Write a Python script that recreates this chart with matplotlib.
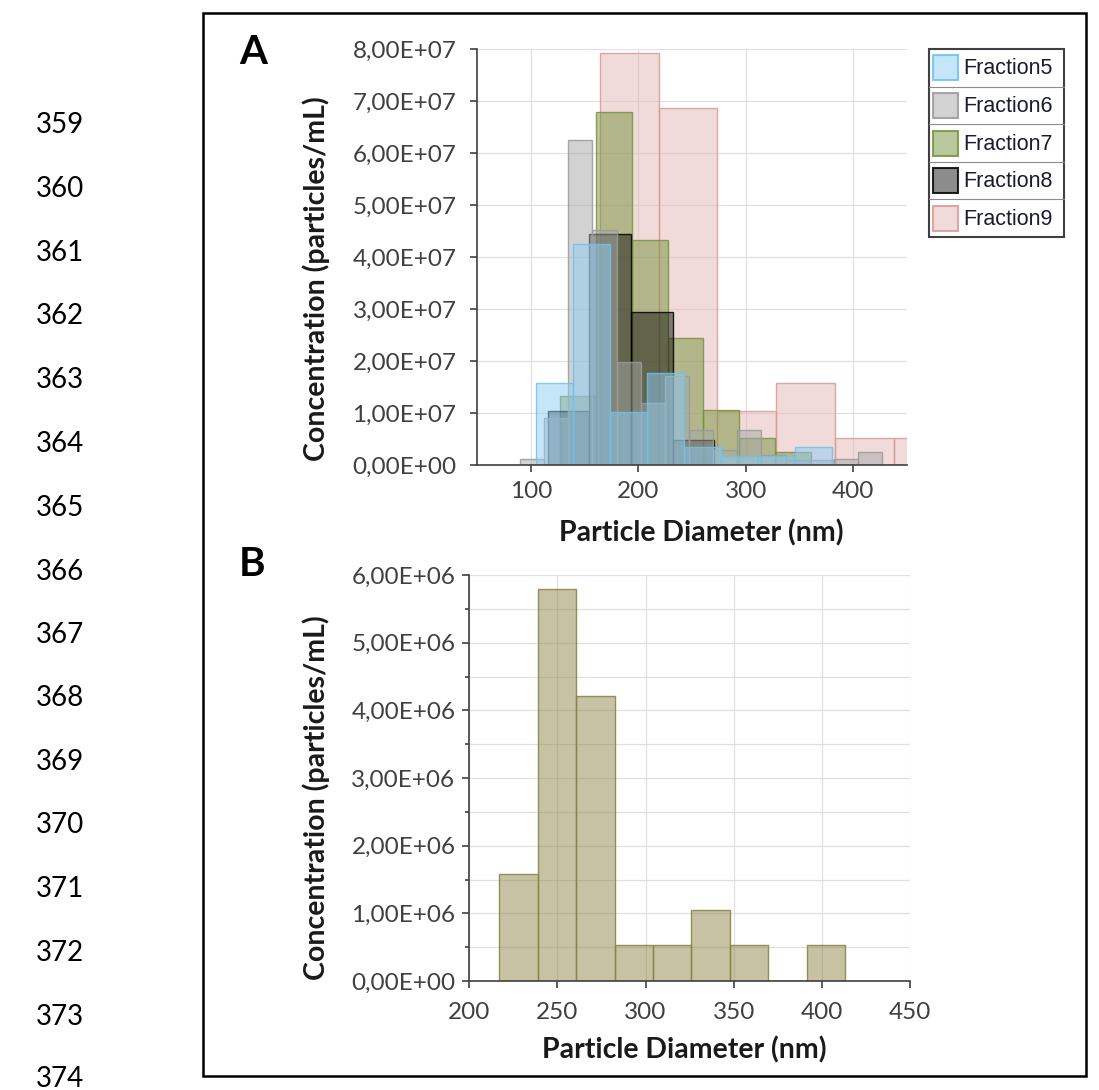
import numpy as np
import matplotlib
matplotlib.use("Agg")
import matplotlib.pyplot as plt
from matplotlib.patches import Rectangle
from matplotlib.ticker import FuncFormatter, MultipleLocator

# figure size in pixels (dpi 100)
W, H = 1099, 1090

# ---- data: panel A, one histogram per fraction (left bin edge, bin width, conc) ----
names = ["Fraction5", "Fraction6", "Fraction7", "Fraction8", "Fraction9"]

f5_left = [104.7, 139.2, 173.7, 208.2, 242.7, 277.2, 311.7, 346.2]
f5_width = 34.5
f5_conc = [1.58e7, 4.25e7, 1.03e7, 1.77e7, 0.35e7, 0.18e7, 0.18e7, 0.35e7]

f6_left = [89.7, 112.2, 134.7, 157.2, 179.7, 202.2, 224.7, 247.2, 269.7,
           292.2, 314.7, 337.2, 359.7, 382.2, 404.7]
f6_width = 22.5
f6_conc = [0.12e7, 0.90e7, 6.26e7, 4.52e7, 1.99e7, 1.20e7, 1.72e7, 0.67e7, 0.30e7,
           0.67e7, 0.20e7, 0.10e7, 0.10e7, 0.12e7, 0.25e7]

f7_left = [127.5, 160.8, 194.1, 227.4, 260.7, 294.0, 327.3]
f7_width = 33.3
f7_conc = [1.33e7, 6.79e7, 4.33e7, 2.44e7, 1.06e7, 0.52e7, 0.25e7]

f8_left = [115.5, 154.3, 193.1, 231.9]
f8_width = 38.8
f8_conc = [1.04e7, 4.45e7, 2.95e7, 0.49e7]

f9_left = [164.0, 218.8, 273.6, 328.4, 383.2, 438.0]
f9_width = 54.8
f9_conc = [7.92e7, 6.87e7, 1.04e7, 1.58e7, 0.52e7, 0.52e7]

# ---- data: panel B ----
b_left = [217.0, 238.8, 260.6, 282.4, 304.2, 326.0, 347.8, 369.6, 391.4]
b_width = 21.8
b_conc = [1.58e6, 5.79e6, 4.21e6, 0.53e6, 0.53e6, 1.05e6, 0.53e6, 0.0, 0.53e6]

# page line numbers on the left margin
line_nums = ["359", "360", "361", "362", "363", "364", "365", "366",
             "367", "368", "369", "370", "371", "372", "373", "374"]
line_y = [125, 189, 253, 316, 380, 444, 508, 572, 635, 698, 762, 825, 889, 953, 1017, 1079]

# colours (face rgb, face alpha, edge rgb)
cols = {
    "Fraction5": ("#8DCDF5", 0.5, "#6EC1EE"),
    "Fraction6": ("#A7A7A7", 0.5, "#9A9A9A"),
    "Fraction7": ("#77933C", 0.5, "#77933C"),
    "Fraction8": ("#000000", 0.45, "#000000"),
    "Fraction9": ("#E5B9B7", 0.5, "#D99A98"),
}
b_col = ("#91874B", 0.5, "#8C8447")

tick_col = "#404040"
grid_col = "#E0E0E0"
txt_font = "Lato"
tick_fs = 17.5
lab_fs = 20.5


def px(x, y):
    '''pixel position -> figure fraction'''
    return x / W, 1 - y / H


def rgba(c, a):
    return matplotlib.colors.to_rgba(c, a)


def sci_comma(v, pos):
    return ("%.2E" % v).replace(".", ",")


def style_axes(ax):
    for s in ["top", "right"]:
        ax.spines[s].set_visible(False)
    for s in ["left", "bottom"]:
        ax.spines[s].set_color("#404040")
        ax.spines[s].set_linewidth(1.2)
    ax.grid(True, which="major", color=grid_col, lw=0.9)
    ax.set_axisbelow(True)
    ax.yaxis.set_major_formatter(FuncFormatter(sci_comma))


fig = plt.figure(figsize=(W / 100, H / 100), dpi=100)

# ---------------- panel A ----------------
axA = fig.add_axes([477.3 / W, 1 - 465.3 / H, 429.4 / W, 416 / H])
series = {
    "Fraction5": (f5_left, f5_width, f5_conc),
    "Fraction6": (f6_left, f6_width, f6_conc),
    "Fraction7": (f7_left, f7_width, f7_conc),
    "Fraction8": (f8_left, f8_width, f8_conc),
    "Fraction9": (f9_left, f9_width, f9_conc),
}
# pink at the back, blue on top
for nm in ["Fraction9", "Fraction7", "Fraction8", "Fraction6", "Fraction5"]:
    left, w, conc = series[nm]
    fc, a, ec = cols[nm]
    axA.bar(left, conc, width=w, align="edge", facecolor=rgba(fc, a),
            edgecolor=rgba(ec, 0.85), linewidth=1.0)

axA.set_xlim(50, 450)
axA.set_ylim(0, 8e7)
axA.set_xticks([100, 200, 300, 400])
axA.yaxis.set_major_locator(MultipleLocator(1e7))
style_axes(axA)
axA.tick_params(axis="y", length=5, width=1.2, color="#404040", pad=10,
                labelsize=tick_fs, labelcolor=tick_col)
axA.tick_params(axis="x", length=5, width=1.2, color="#404040", pad=6,
                labelsize=tick_fs, labelcolor=tick_col)
for lab in axA.get_xticklabels() + axA.get_yticklabels():
    lab.set_fontfamily(txt_font)

# legend drawn as a boxed table, like the source
lax = fig.add_axes([929 / W, 1 - 237 / H, 135 / W, 188 / H])
lax.set_xlim(0, 135)
lax.set_ylim(188, 0)
lax.axis("off")
row_h = 188 / len(names)
for i, nm in enumerate(names):
    fc, a, ec = cols[nm]
    top = i * row_h
    lax.add_patch(Rectangle((4, top + row_h / 2 - 12.5), 25, 25,
                            facecolor=rgba(fc, a), edgecolor=rgba(ec, 0.85), lw=1.5))
    lax.text(34, top + row_h / 2 + 1, nm, fontsize=15.5, family="Liberation Sans",
             color="#1A1A33", va="center", ha="left")
    if i > 0:
        lax.plot([0, 135], [top, top], color="#8C8C8C", lw=0.8, clip_on=False)
lax.add_patch(Rectangle((0, 0), 135, 188, fill=False, edgecolor="#404040",
                        lw=1.5, clip_on=False))

# ---------------- panel B ----------------
axB = fig.add_axes([469.3 / W, 1 - 981 / H, 440.7 / W, 406 / H])
fc, a, ec = b_col
axB.bar(b_left, b_conc, width=b_width, align="edge", facecolor=rgba(fc, a),
        edgecolor=rgba(ec, 0.9), linewidth=1.0)
axB.set_xlim(200, 450)
axB.set_ylim(0, 6e6)
axB.xaxis.set_major_locator(MultipleLocator(50))
axB.yaxis.set_major_locator(MultipleLocator(1e6))
axB.yaxis.set_minor_locator(MultipleLocator(5e5))
style_axes(axB)
axB.grid(True, which="minor", axis="y", color=grid_col, lw=0.9)
axB.tick_params(axis="y", which="major", length=5, width=1.2, color="#404040",
                pad=5, labelsize=tick_fs, labelcolor=tick_col)
axB.tick_params(axis="y", which="minor", length=3, width=1.2, color="#404040")
axB.tick_params(axis="x", length=5, width=1.2, color="#404040", pad=10,
                labelsize=tick_fs, labelcolor=tick_col)
for lab in axB.get_xticklabels() + axB.get_yticklabels():
    lab.set_fontfamily(txt_font)

# ---------------- labels ----------------
ylab = "Concentration (particles/mL)"
xlab = "Particle Diameter (nm)"
for (x, y), rot, t in [((316, 278.5), 90, ylab), ((316, 798), 90, ylab),
                       ((701.5, 533), 0, xlab), ((684, 1050), 0, xlab)]:
    fig.text(*px(x, y), t, rotation=rot, ha="center", va="center",
             fontsize=lab_fs, fontweight="bold", family=txt_font, color="#1A1A1A")
fig.text(*px(253.5, 52), "A", ha="center", va="center", fontsize=29,
         fontweight="bold", family=txt_font, color="black")
fig.text(*px(252, 565), "B", ha="center", va="center", fontsize=29,
         fontweight="bold", family=txt_font, color="black")

# line numbers of the manuscript page
for t, y in zip(line_nums, line_y):
    fig.text(*px(60, y), t, ha="center", va="center", fontsize=20,
             family=txt_font, color="black")

# frame around the figure
x0, y0 = px(203, 1076)
x1, y1 = px(1086, 12.5)
fig.patches.append(Rectangle((x0, y0), x1 - x0, y1 - y0, transform=fig.transFigure,
                             fill=False, edgecolor="black", lw=1.8))

fig.savefig("out.png", dpi=100)
